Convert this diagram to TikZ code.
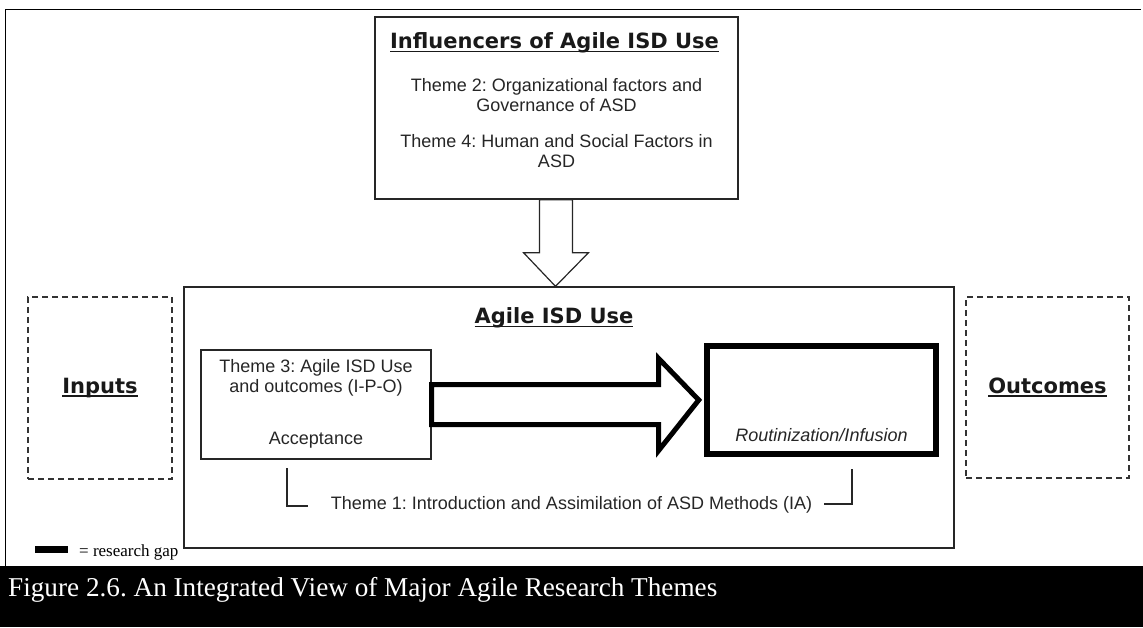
\documentclass[tikz,border=0pt]{standalone}
\usepackage{fontspec}
\setmainfont{Liberation Sans}
\newfontfamily\headfont{DejaVu Sans}
\newfontfamily\capserif{Liberation Serif}
\usetikzlibrary{calc}
\frenchspacing
% bold heading with a heavy underline
\newcommand\headline[1]{\setbox0\hbox{\headfont\bfseries #1}\rlap{\copy0}\rule[-3.6pt]{\wd0}{1.8pt}}
\begin{document}
\begin{tikzpicture}[x=1pt,y=-1pt,
  dashbox/.style={draw=black!80, line width=1.4pt, dash pattern=on 6pt off 4pt, inner sep=0pt},
  gapbox/.style={draw=black, line width=6.5pt, inner sep=0pt},
  plainbox/.style={draw=black!85, line width=1.3pt, inner sep=0pt},
  body/.style={font=\fontsize{18}{20.5}\selectfont, text=black!85, align=center},
  head/.style={font=\fontsize{21}{24}\selectfont, text=black!90}]
\useasboundingbox (0,0) rectangle (1143,627);

% page frame
\draw[line width=1pt] (5,566) -- (5,9.5) -- (1141,9.5);

% influencers box
\node[plainbox, minimum width=363pt, minimum height=182pt] (infl) at (556.5,108) {};
\node[head] (inflT) at (554.5,43) {\headline{Influencers of Agile ISD Use}};
\node[body] (th2) at (556.5,95) {Theme 2: Organizational factors and\\Governance of ASD};
\node[body] (th4) at (556.5,151) {Theme 4: Human and Social Factors in\\ASD};

% main box
\node[plainbox, minimum width=770pt, minimum height=261pt] (use) at (569,417.5) {};
\node[head] (useT) at (554,318) {\headline{Agile ISD Use}};

% down block arrow from influencers into the main box
\draw[draw=black!85, line width=1.2pt, fill=white, line join=miter]
  ($(infl.south)+(-17,0)$) -- ($(infl.south)+(-17,53)$) -- ($(infl.south)+(-33,53)$)
  -- ($(use.north)+(-13.5,0)$) -- ($(infl.south)+(32,53)$) -- ($(infl.south)+(16,53)$)
  -- ($(infl.south)+(16,0)$) -- cycle;

% inputs / outcomes
\node[dashbox, minimum width=144pt, minimum height=182pt] (inp) at (100,388) {};
\node[head] at (inp.center) {\headline{Inputs}};
\node[dashbox, minimum width=163pt, minimum height=181pt] (outc) at (1047.5,387.5) {};
\node[head] at (outc.center) {\headline{Outcomes}};

% theme 3 box
\node[plainbox, minimum width=230pt, minimum height=109pt] (th3) at (316,404.5) {};
\node[body] (th3T) at (316,378) {Theme 3: Agile ISD Use\\and outcomes (I-P-O)};
\node[body] (acc) at (316,440) {Acceptance};

% routinization box (research gap)
\node[gapbox, minimum width=229pt, minimum height=108pt] (rout) at (821.5,400) {};
\node[body, font=\fontsize{18}{20.5}\selectfont\itshape] (routT) at (821.5,435) {Routinization/Infusion};

% thick block arrow
\draw[line width=5pt, fill=white, line join=miter]
  ($(th3.east)+(0,-20)$) -- ($(th3.east)+(227,-20)$) -- ($(th3.east)+(227,-46)$)
  -- ($(rout.west)+(-5,0)$) -- ($(th3.east)+(227,46)$) -- ($(th3.east)+(227,20)$)
  -- ($(th3.east)+(0,20)$) -- cycle;

% theme 1 bracket
\node[body, inner sep=0pt] (th1) at (571.5,505) {Theme 1: Introduction and Assimilation of ASD Methods (IA)};
\coordinate (bl) at (287,468);
\coordinate (br) at (852,469);
\draw[line width=1.3pt, black!85] (bl) |- ($(th1.west)+(-23,1)$);
\draw[line width=1.3pt, black!85] (br) |- ($(th1.east)+(12,-1)$);

% legend
\fill (35,546) rectangle (68,553);
\node[anchor=base west, font=\capserif\fontsize{17}{19}\selectfont, inner sep=0pt] (leg) at (79,556) {= research gap};

% caption bar
\fill (0,566) rectangle (1143,627);
\node[anchor=base west, text=white, font=\capserif\fontsize{27.2}{30}\selectfont, inner sep=0pt] (cap) at (8,596) {Figure 2.6. An Integrated View of Major Agile Research Themes};
\end{tikzpicture}
\end{document}
